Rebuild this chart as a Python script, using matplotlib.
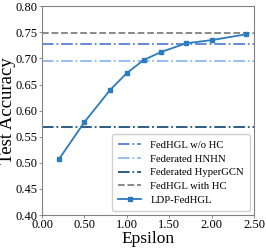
import matplotlib
matplotlib.use('Agg')
import matplotlib.pyplot as plt

plt.rcParams['font.family'] = ['Liberation Serif', 'DejaVu Serif']

# data
epsilon = [0.2, 0.5, 0.8, 1.0, 1.2, 1.4, 1.7, 2.0, 2.4]
ldp_acc = [0.507, 0.578, 0.639, 0.672, 0.697, 0.712, 0.729, 0.735, 0.746]

baseline_names = ['FedHGL w/o HC', 'Federated HNHN', 'Federated HyperGCN', 'FedHGL with HC']
baseline_acc = [0.727, 0.695, 0.569, 0.748]
baseline_colors = ['#5b7fd6', '#8fb8f2', '#1f4f7a', '#808080']
baseline_styles = ['-.', '-.', '-.', '--']

xticks = [0.0, 0.5, 1.0, 1.5, 2.0, 2.5]
yticks = [0.40, 0.45, 0.50, 0.55, 0.60, 0.65, 0.70, 0.75, 0.80]

fig, ax = plt.subplots(figsize=(2.66, 2.48), dpi=100)
fig.subplots_adjust(left=0.158, right=0.955, top=0.975, bottom=0.133)

for name, val, c, ls in zip(baseline_names, baseline_acc, baseline_colors, baseline_styles):
    ax.axhline(val, color=c, linestyle=ls, linewidth=1.3, label=name)

ax.plot(epsilon, ldp_acc, color='#2a7bbf', marker='s', markersize=2.8,
        linewidth=1.3, label='LDP-FedHGL')

ax.set_xlim(0, 2.5)
ax.set_ylim(0.4, 0.8)
ax.set_xticks(xticks)
ax.set_xticklabels(['%.2f' % v for v in xticks])
ax.set_yticks(yticks)
ax.set_yticklabels(['%.2f' % v for v in yticks])
ax.tick_params(labelsize=9, length=2, width=0.6, color='#808080', pad=1)
for s in ax.spines.values():
    s.set_color('#808080')
    s.set_linewidth(0.8)

ax.set_xlabel('Epsilon', fontsize=12.5, labelpad=0)
ax.set_ylabel('Test Accuracy', fontsize=13.5)
ax.yaxis.set_label_coords(-0.125, 0.5)

ax.legend(loc='lower right', fontsize=7.7, handlelength=2.15, labelspacing=0.4,
          borderpad=0.55, handletextpad=0.85, borderaxespad=0.4,
          framealpha=1, edgecolor='#d0d0d0')

fig.savefig('out.png', dpi=100)
